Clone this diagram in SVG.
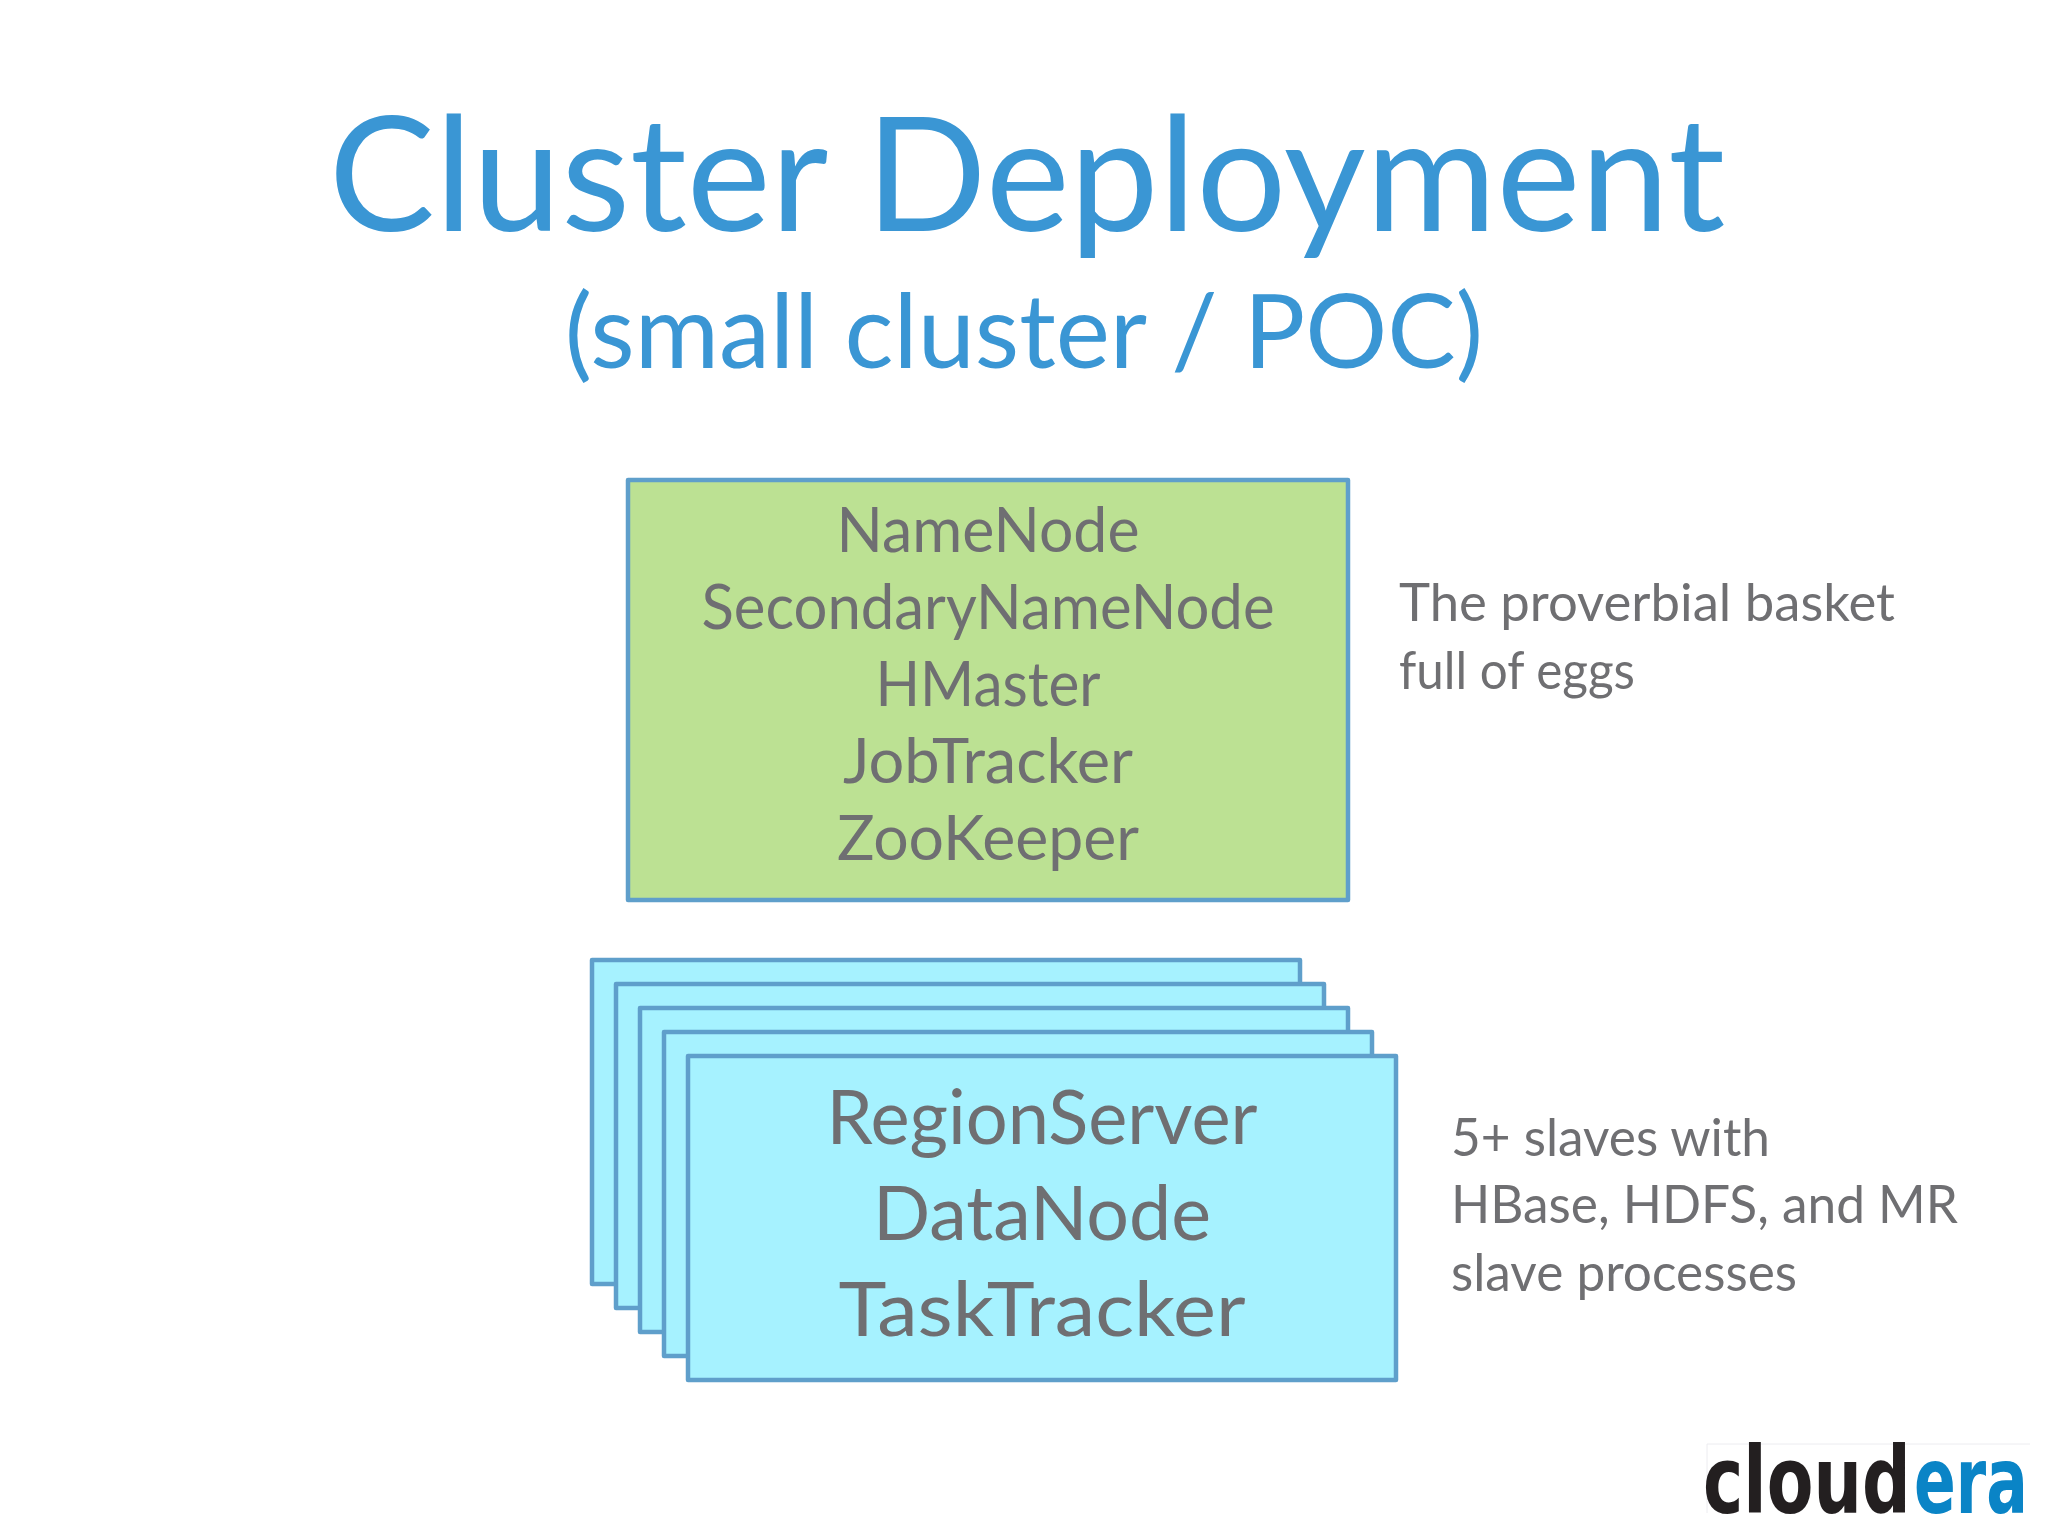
<svg xmlns="http://www.w3.org/2000/svg" width="2048" height="1536" viewBox="0 0 2048 1536">
<style>
text{font-family:"Lato","Open Sans","Liberation Sans",sans-serif;fill:#6f6f72}
.t{fill:#3a96d4;text-anchor:middle}
.g{font-size:61px;text-anchor:middle}
.b{font-size:75px;text-anchor:middle}
.n{font-size:52px}
.s{fill:#a6f2ff;stroke:#5f9fcb;stroke-width:4.5;stroke-linejoin:round}
.m{fill:#bce193;stroke:#5f9fcb;stroke-width:4.5;stroke-linejoin:round}
.l{font-size:92px;font-weight:700;font-family:"DejaVu Sans",sans-serif}
</style>
<rect width="2048" height="1536" fill="#fff"/>
<g id="title">
<text class="t" x="1027" y="231" font-size="159">Cluster Deployment</text>
<text class="t" x="1024" y="368" font-size="102.5">(small cluster / POC)</text>
</g>
<g id="master">
<rect class="m" x="628" y="480" width="720" height="420"/>
<text class="g" x="988" y="552" textLength="303" lengthAdjust="spacingAndGlyphs">NameNode</text>
<text class="g" x="988" y="629" textLength="573" lengthAdjust="spacingAndGlyphs">SecondaryNameNode</text>
<text class="g" x="988" y="706" textLength="225" lengthAdjust="spacingAndGlyphs">HMaster</text>
<text class="g" x="988" y="783" textLength="290" lengthAdjust="spacingAndGlyphs">JobTracker</text>
<text class="g" x="988" y="860" textLength="302" lengthAdjust="spacingAndGlyphs">ZooKeeper</text>
</g>
<g id="slaves">
<rect class="s" x="592" y="960" width="708" height="324"/>
<rect class="s" x="616" y="984" width="708" height="324"/>
<rect class="s" x="640" y="1008" width="708" height="324"/>
<rect class="s" x="664" y="1032" width="708" height="324"/>
<rect class="s" x="688" y="1056" width="708" height="324"/>
<text class="b" x="1042" y="1144" textLength="431" lengthAdjust="spacingAndGlyphs">RegionServer</text>
<text class="b" x="1042" y="1240" textLength="338" lengthAdjust="spacingAndGlyphs">DataNode</text>
<text class="b" x="1042" y="1336" textLength="407" lengthAdjust="spacingAndGlyphs">TaskTracker</text>
</g>
<g id="note-master">
<text class="n" x="1399" y="621" textLength="496" lengthAdjust="spacingAndGlyphs">The proverbial basket</text>
<text class="n" x="1399" y="689" textLength="236" lengthAdjust="spacingAndGlyphs">full of eggs</text>
</g>
<g id="note-slaves">
<text class="n" x="1451" y="1156" textLength="319" lengthAdjust="spacingAndGlyphs">5+ slaves with</text>
<text class="n" x="1451" y="1223" textLength="507" lengthAdjust="spacingAndGlyphs">HBase, HDFS, and MR</text>
<text class="n" x="1451" y="1291" textLength="346" lengthAdjust="spacingAndGlyphs">slave processes</text>
</g>
<g id="logo">
<path d="M1707 1513V1444H2030" fill="none" stroke="#ececf0" stroke-width="1"/>
<text class="l" transform="translate(1703 1513) scale(.74 1)" style="fill:#231f20">cloud</text>
<text class="l" transform="translate(1914 1513) scale(.67 1)" style="fill:#0a84c6">era</text>
</g>
</svg>
